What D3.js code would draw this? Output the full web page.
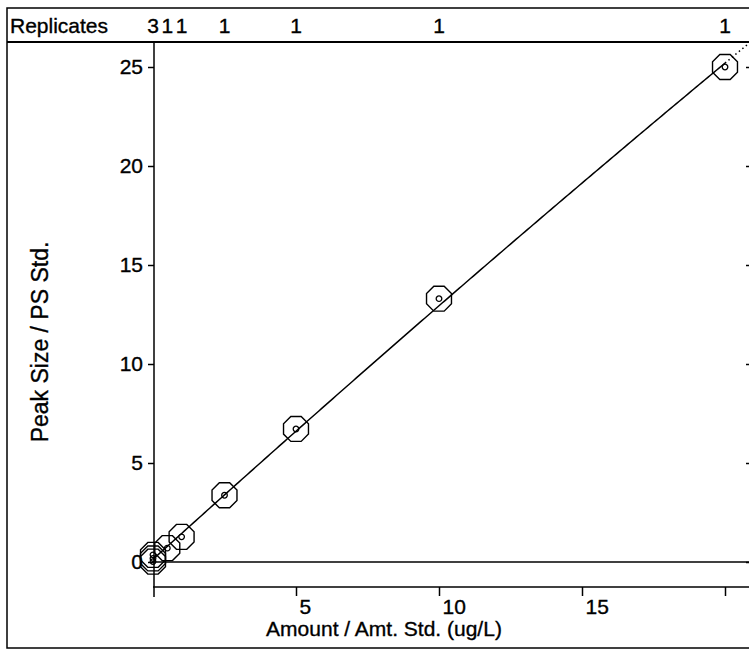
<!DOCTYPE html>
<html>
<head>
<meta charset="utf-8">
<script src="https://cdn.jsdelivr.net/npm/d3@7"></script>
<style>
  html, body { margin: 0; padding: 0; background: #fff; }
  svg { display: block; }
  text { font-family: "Liberation Sans", Arial, Helvetica, sans-serif; fill: #000; stroke: #000; stroke-width: 0.35px; }
</style>
</head>
<body>
<svg id="chart" width="749" height="652"></svg>
<script>
// Calibration standards: amount ratio vs. peak-size ratio
const amounts = [0, 0, 0, 0.5, 1, 2.5, 5, 10, 20];
const responses = [0.02, 0.18, 0.36, 0.70, 1.27, 3.37, 6.72, 13.3, 25.0];

// Replicate counts per calibration level (header row)
const levels = [0, 0.5, 1, 2.5, 5, 10, 20];
const replicates = [3, 1, 1, 1, 1, 1, 1];

const xTicks = [5, 10, 15];
const yTicks = [0, 5, 10, 15, 20, 25];

const W = 749, H = 652;
const FS = 21;
const svg = d3.select("#chart");

const x = d3.scaleLinear().domain([0, 20]).range([153, 725]);
const y = d3.scaleLinear().domain([0, 25]).range([562, 67]);

const frame = { left: 7, top: 8, right: 752, bottom: 648, header: 42 };
const xAxisY = 587;

// Outer frame and header band
svg.append("rect")
  .attr("x", frame.left).attr("y", frame.top)
  .attr("width", frame.right - frame.left).attr("height", frame.bottom - frame.top)
  .attr("fill", "none").attr("stroke", "#000").attr("stroke-width", 1.5);
svg.append("line")
  .attr("x1", frame.left).attr("x2", frame.right)
  .attr("y1", frame.header).attr("y2", frame.header)
  .attr("stroke", "#000").attr("stroke-width", 2);

svg.append("text")
  .attr("x", 10).attr("y", 33)
  .attr("font-size", FS)
  .text("Replicates");

svg.append("g").selectAll("text")
  .data(levels.map((l, i) => ({ l, n: replicates[i] })))
  .join("text")
  .attr("x", d => x(d.l))
  .attr("y", 33)
  .attr("text-anchor", "middle")
  .attr("font-size", FS)
  .text(d => d.n);

// Left axis (ticks outward) and right axis (ticks inward)
const yAxis = d3.axisLeft(y).tickValues(yTicks).tickSize(6).tickPadding(5).tickFormat(d3.format("d"));
const gy = svg.append("g").attr("transform", `translate(${x(0) + 1},0)`).call(yAxis);
gy.select(".domain").remove();
gy.selectAll("line").attr("stroke", "#000").attr("stroke-width", 1.5);
gy.selectAll("text").attr("font-size", FS).attr("font-family", "Liberation Sans, Arial, sans-serif");

svg.append("line")
  .attr("x1", x(0) + 1).attr("x2", x(0) + 1)
  .attr("y1", frame.header).attr("y2", 597)
  .attr("stroke", "#000").attr("stroke-width", 1.5);

const yRight = d3.axisRight(y).tickValues(yTicks).tickSize(-6).tickFormat("");
const gr = svg.append("g").attr("transform", `translate(${frame.right},0)`).call(yRight);
gr.select(".domain").remove();
gr.selectAll("line").attr("stroke", "#000").attr("stroke-width", 1.5);

// Zero reference line
svg.append("line")
  .attr("x1", x(0)).attr("x2", W)
  .attr("y1", y(0)).attr("y2", y(0))
  .attr("stroke", "#000").attr("stroke-width", 1.5);

// Bottom axis, offset below the zero line; labels sit right of each tick
svg.append("line")
  .attr("x1", x(0)).attr("x2", W)
  .attr("y1", xAxisY).attr("y2", xAxisY)
  .attr("stroke", "#000").attr("stroke-width", 1.5);
const xAxis = d3.axisBottom(x).tickValues([...xTicks, 20]).tickSize(9).tickFormat(d => xTicks.includes(d) ? d : "");
const gx = svg.append("g").attr("transform", `translate(0,${xAxisY})`).call(xAxis);
gx.select(".domain").remove();
gx.selectAll("line").attr("stroke", "#000").attr("stroke-width", 1.5);
gx.selectAll("text")
  .attr("font-size", FS).attr("font-family", "Liberation Sans, Arial, sans-serif")
  .attr("text-anchor", "start").attr("dx", 3).attr("y", 7).attr("dy", "0.95em");

// Axis titles
svg.append("text")
  .attr("x", 384).attr("y", 636)
  .attr("text-anchor", "middle").attr("font-size", FS)
  .text("Amount / Amt. Std. (ug/L)");
svg.append("text")
  .attr("transform", `translate(48,342) rotate(-90)`)
  .attr("text-anchor", "middle").attr("font-size", 23)
  .text("Peak Size / PS Std.");

// Weighted quadratic least-squares fit of the standards
function quadFit(xs, ys) {
  const S = [[0,0,0],[0,0,0],[0,0,0]], B = [0,0,0];
  xs.forEach((xi, i) => {
    const w = 1 / Math.max(xi, 0.5);
    const v = [1, xi, xi * xi];
    for (let r = 0; r < 3; r++) {
      B[r] += w * v[r] * ys[i];
      for (let c = 0; c < 3; c++) S[r][c] += w * v[r] * v[c];
    }
  });
  // Gaussian elimination
  const M = S.map((row, r) => [...row, B[r]]);
  for (let p = 0; p < 3; p++) {
    for (let r = p + 1; r < 3; r++) {
      const f = M[r][p] / M[p][p];
      for (let c = p; c < 4; c++) M[r][c] -= f * M[p][c];
    }
  }
  const coef = [0,0,0];
  for (let r = 2; r >= 0; r--) {
    let s = M[r][3];
    for (let c = r + 1; c < 3; c++) s -= M[r][c] * coef[c];
    coef[r] = s / M[r][r];
  }
  return t => coef[0] + coef[1] * t + coef[2] * t * t;
}
const fit = quadFit(amounts, responses);
const line = d3.line().x(d => x(d)).y(d => y(fit(d)));
const solid = d3.range(0, 20.0001, 0.1);
const dotted = d3.range(20, x.invert(W) + 0.05, 0.05);

svg.append("path").attr("d", line(solid))
  .attr("fill", "none").attr("stroke", "#000").attr("stroke-width", 1.5);
svg.append("path").attr("d", line(dotted))
  .attr("fill", "none").attr("stroke", "#000").attr("stroke-width", 1.5)
  .attr("stroke-dasharray", "1.5,3");

// Standards: octagon marker with a small centre circle
const R = 13.5;
const octagon = d3.range(8).map(k => {
  const a = Math.PI / 8 + k * Math.PI / 4;
  return [R * Math.cos(a), R * Math.sin(a)];
});
const pts = svg.append("g").selectAll("g")
  .data(amounts.map((a, i) => ({ a, r: responses[i] })))
  .join("g")
  .attr("transform", d => `translate(${x(d.a)},${y(d.r)})`);
pts.append("polygon")
  .attr("points", octagon.map(p => p.join(",")).join(" "))
  .attr("fill", "none").attr("stroke", "#000").attr("stroke-width", 1.4);
pts.append("circle").attr("r", 2.8)
  .attr("fill", "none").attr("stroke", "#000").attr("stroke-width", 1.3);
</script>
</body>
</html>
